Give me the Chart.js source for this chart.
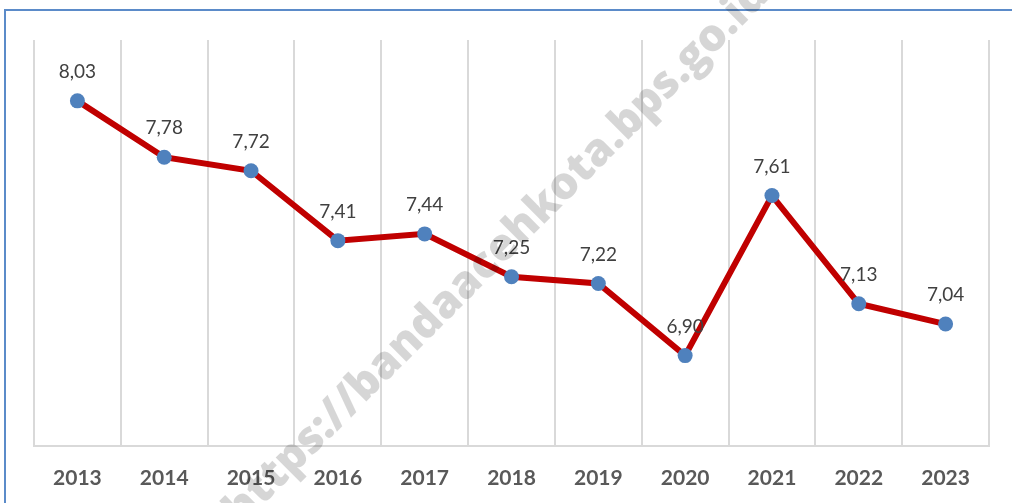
<!DOCTYPE html>
<html>
<head>
<meta charset="utf-8">
<script src="https://cdn.jsdelivr.net/npm/chart.js@4.4.1/dist/chart.umd.min.js"></script>
<style>
  html, body { margin: 0; padding: 0; background: #ffffff; overflow: hidden; }
  #wrap { position: relative; width: 1012px; height: 503px; overflow: hidden; }
  #frame {
    position: absolute; left: 4px; top: 9px; width: 1100px; height: 600px;
    border: 2px solid #5b8bc9; box-sizing: border-box;
  }
  canvas { position: absolute; left: 0; top: 0; }
</style>
</head>
<body>
<div id="wrap">
  <div id="frame"></div>
  <canvas id="chart" width="1012" height="503"></canvas>
</div>
<script>
// Yearly series
const years = ['2013', '2014', '2015', '2016', '2017', '2018', '2019', '2020', '2021', '2022', '2023'];
const values = [8.03, 7.78, 7.72, 7.41, 7.44, 7.25, 7.22, 6.90, 7.61, 7.13, 7.04];
const yRange = [6.5, 8.3];
const watermarkText = 'https://bandaacehkota.bps.go.id';

// Value labels above each point, decimal comma
const valueLabels = {
  id: 'valueLabels',
  afterDatasetsDraw(chart) {
    const ctx = chart.ctx;
    const meta = chart.getDatasetMeta(0);
    ctx.save();
    ctx.font = '19px Lato, "Open Sans", sans-serif';
    ctx.fillStyle = '#404040';
    ctx.textAlign = 'center';
    ctx.textBaseline = 'middle';
    meta.data.forEach((pt, i) => {
      const txt = values[i].toFixed(2).replace('.', ',');
      ctx.fillText(txt, pt.x, pt.y - 29);
    });
    ctx.restore();
  }
};

// Faint diagonal site address across the plot.
// Font size is chosen so the span from ':' to the final 'i' is 585px.
const watermark = {
  id: 'watermark',
  afterDraw(chart) {
    const ctx = chart.ctx;
    const family = '"Open Sans", Lato, sans-serif';
    ctx.save();
    ctx.font = '800 50px ' + family;
    const colon = watermarkText.indexOf(':');
    const lastI = watermarkText.lastIndexOf('i');
    const w = s => ctx.measureText(s).width;
    const cColon = w(watermarkText.slice(0, colon)) + w(':') / 2;
    const cI = w(watermarkText.slice(0, lastI)) + w('i') / 2;
    const size = 50 * 585 / (cI - cColon);
    ctx.font = '800 ' + size.toFixed(1) + 'px ' + family;
    const startOff = (w(watermarkText.slice(0, colon)) + w(':') / 2);
    ctx.translate(323, 427);
    ctx.rotate(-45 * Math.PI / 180);
    ctx.fillStyle = 'rgba(0,0,0,0.16)';
    ctx.textAlign = 'left';
    ctx.textBaseline = 'middle';
    ctx.fillText(watermarkText, -startOff, 0);
    ctx.restore();
  }
};

new Chart(document.getElementById('chart'), {
  type: 'line',
  data: {
    labels: years,
    datasets: [{
      data: values,
      borderColor: '#c00000',
      borderWidth: 6,
      pointBackgroundColor: '#4f81bd',
      pointBorderColor: '#4f81bd',
      pointBorderWidth: 0,
      pointRadius: 7.5,
      tension: 0
    }]
  },
  options: {
    responsive: false,
    animation: false,
    events: [],
    layout: { padding: { left: 34, right: 23, top: 40, bottom: -8 } },
    plugins: { legend: { display: false }, tooltip: { enabled: false } },
    scales: {
      x: {
        offset: true,
        grid: { offset: true, color: '#d9d9d9', lineWidth: 2, drawTicks: false },
        border: { color: '#d9d9d9', width: 2 },
        ticks: {
          padding: 20,
          color: '#595959',
          font: { family: 'Lato, "Open Sans", sans-serif', size: 21, weight: 'bold' }
        }
      },
      y: {
        display: false,
        min: yRange[0],
        max: yRange[1]
      }
    }
  },
  plugins: [valueLabels, watermark]
});
</script>
</body>
</html>
